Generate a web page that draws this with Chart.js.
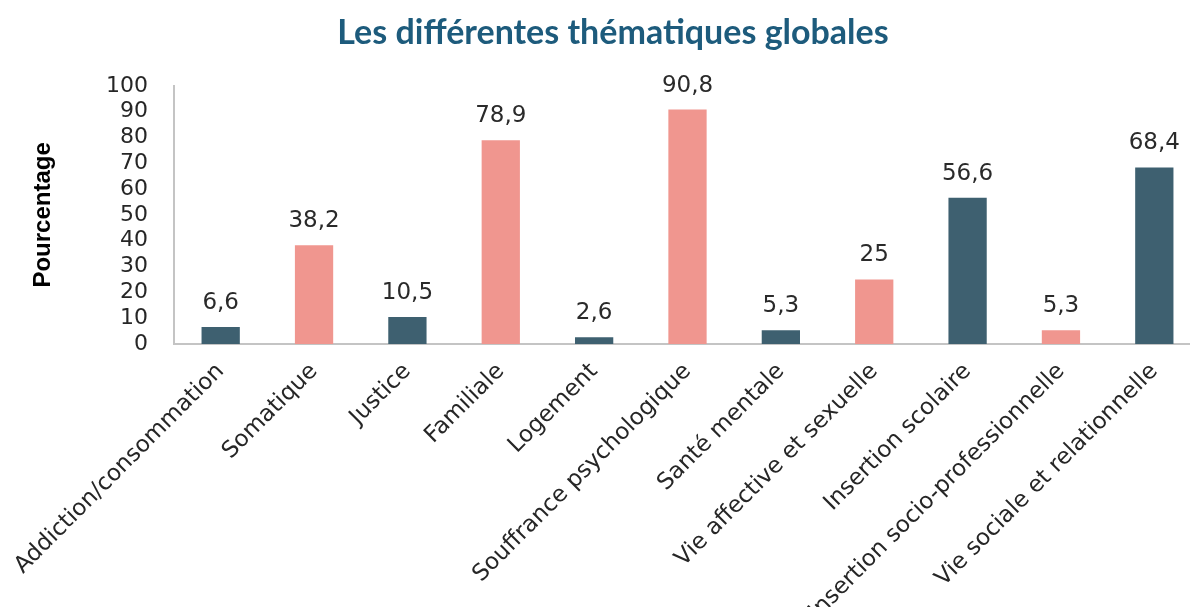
<!DOCTYPE html>
<html>
<head>
<meta charset="utf-8">
<script src="https://cdn.jsdelivr.net/npm/chart.js@4.4.1/dist/chart.umd.min.js"></script>
<style>
  html, body { margin: 0; padding: 0; overflow: hidden; background: #ffffff; width: 1190px; height: 607px; }
  #wrap { position: absolute; left: 0; top: 0; width: 1226px; height: 607px; }
</style>
</head>
<body>
<div id="wrap"><canvas id="chart"></canvas></div>
<script>
const chartTitle = 'Les différentes thématiques globales';
const yAxisTitle = 'Pourcentage';
const categories = [
  'Addiction/consommation',
  'Somatique',
  'Justice',
  'Familiale',
  'Logement',
  'Souffrance psychologique',
  'Santé mentale',
  'Vie affective et sexuelle',
  'Insertion scolaire',
  'Insertion socio-professionnelle',
  'Vie sociale et relationnelle'
];
const values = [6.6, 38.2, 10.5, 78.9, 2.6, 90.8, 5.3, 25, 56.6, 5.3, 68.4];
const yMin = 0;
const yMax = 100;
const yStep = 10;

const DARK = '#3e6070';
const PINK = '#f0968f';
const barColors = [DARK, PINK, DARK, PINK, DARK, PINK, DARK, PINK, DARK, PINK, DARK];

function fmt(v) { return String(v).replace('.', ','); }

const valueLabelPlugin = {
  id: 'valueLabels',
  afterDatasetsDraw(chart) {
    const ctx = chart.ctx;
    const meta = chart.getDatasetMeta(0);
    ctx.save();
    ctx.font = '23px "DejaVu Sans"';
    ctx.fillStyle = '#2a2a2a';
    ctx.textAlign = 'center';
    ctx.textBaseline = 'alphabetic';
    meta.data.forEach((bar, i) => {
      ctx.fillText(fmt(values[i]), bar.x, bar.y - 18);
    });
    ctx.restore();
  }
};

new Chart(document.getElementById('chart'), {
  type: 'bar',
  data: {
    labels: categories,
    datasets: [{
      data: values,
      backgroundColor: barColors,
      borderWidth: 0,
      barPercentage: 0.41,
      categoryPercentage: 1.0
    }]
  },
  plugins: [valueLabelPlugin],
  options: {
    responsive: true,
    maintainAspectRatio: false,
    animation: false,
    layout: { padding: { top: 0, right: 25, bottom: 0, left: 25 } },
    plugins: {
      legend: { display: false },
      tooltip: { enabled: false },
      title: {
        display: true,
        text: chartTitle,
        color: '#1d5b7c',
        font: { family: 'Lato', size: 34, weight: 'bold' },
        padding: { top: 13, bottom: 32 }
      }
    },
    scales: {
      x: {
        grid: { display: false, drawTicks: false },
        border: { display: true, color: '#c4c4c4', width: 2 },
        ticks: {
          autoSkip: false,
          minRotation: 45,
          maxRotation: 45,
          padding: 14,
          color: '#262626',
          font: { family: 'DejaVu Sans', size: 23 }
        },
        afterFit(scale) {
          scale.height = 263;
          scale.paddingLeft = 0;
          scale.paddingRight = 0;
        }
      },
      y: {
        min: yMin,
        max: yMax,
        grid: { display: false, drawTicks: false },
        border: { display: true, color: '#c4c4c4', width: 2 },
        ticks: {
          stepSize: yStep,
          autoSkip: false,
          padding: 26,
          color: '#262626',
          font: { family: 'DejaVu Sans', size: 22 }
        },
        title: {
          display: true,
          text: yAxisTitle,
          color: '#000000',
          font: { family: 'Liberation Sans', size: 24, weight: 'bold' },
          padding: { top: 4, bottom: 0 }
        },
        afterFit(scale) { scale.width = 149; }
      }
    }
  }
});
</script>
</body>
</html>
